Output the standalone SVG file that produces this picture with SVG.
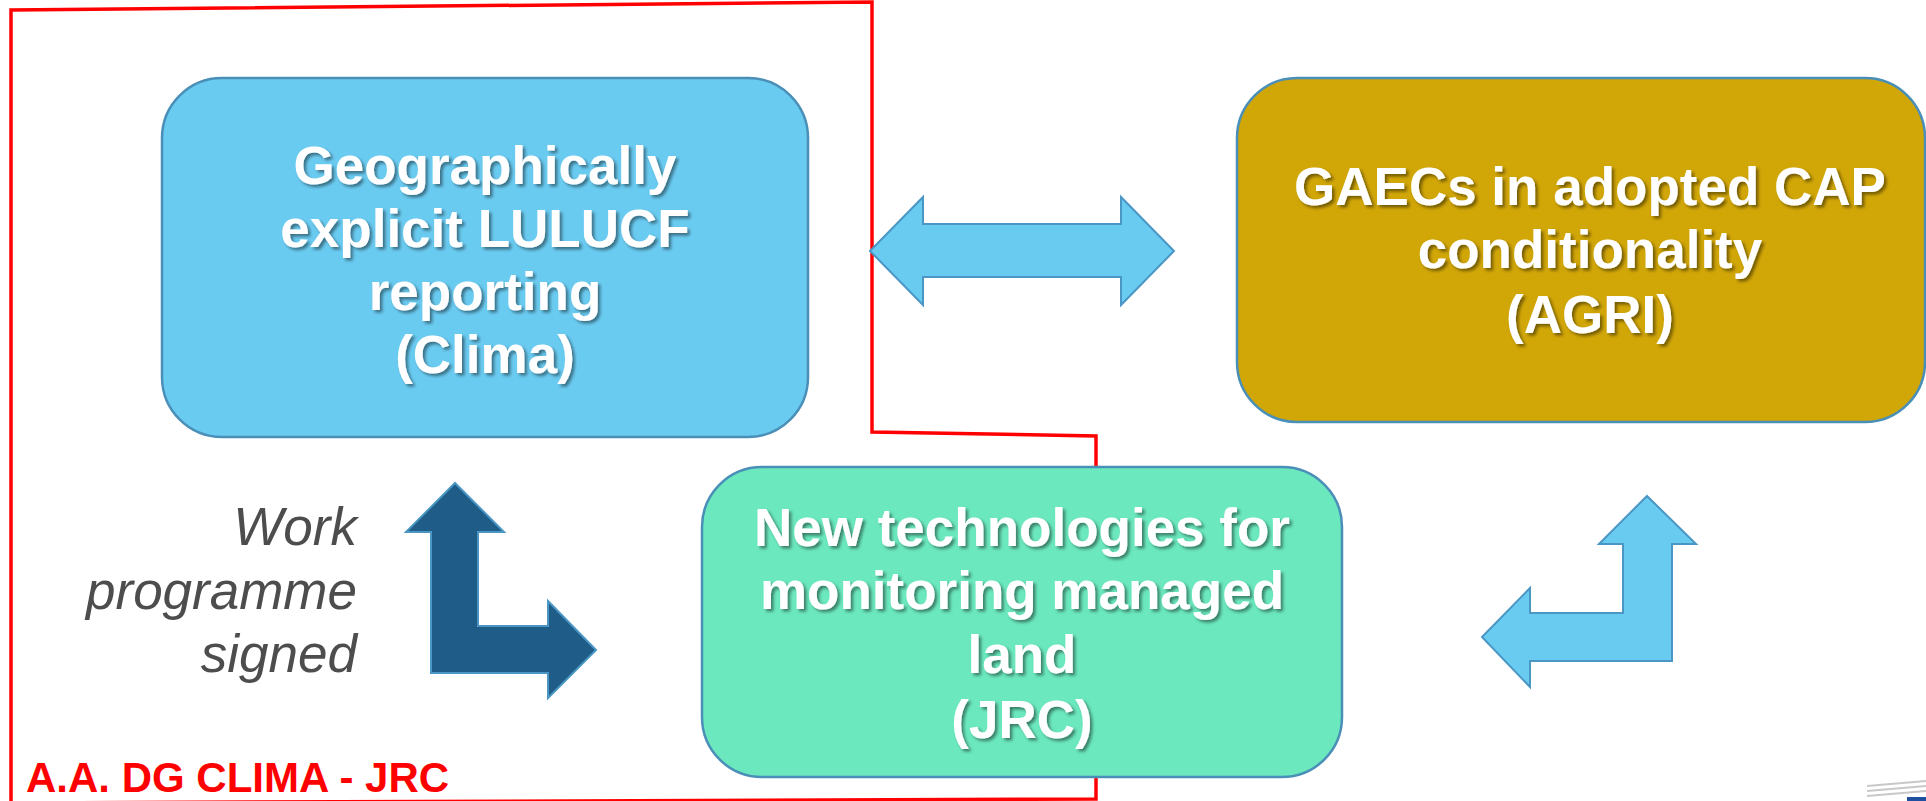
<svg xmlns="http://www.w3.org/2000/svg" width="1926" height="801" viewBox="0 0 1926 801">
<defs>
<filter id="ts" x="-10%" y="-30%" width="120%" height="160%">
<feDropShadow dx="2.5" dy="2.5" stdDeviation="1.5" flood-color="#000" flood-opacity="0.45"/>
</filter>
<style>
.box{stroke:#4A8FB8;stroke-width:2.5}
.t{font-family:"Liberation Sans",Arial,sans-serif;font-weight:bold;font-size:53px;fill:#fff;text-anchor:middle;filter:url(#ts)}
.note{font-family:"Liberation Sans",Arial,sans-serif;font-style:italic;font-size:53px;fill:#4D4D4D;text-anchor:end}
.lbl{font-family:"Liberation Sans",Arial,sans-serif;font-weight:bold;font-size:42px;fill:#FF0000}
.arr{stroke:#4A96C4;stroke-width:2}
</style>
</defs>
<rect width="1926" height="801" fill="#fff"/>
<g id="outline">
<polyline points="11,803 11,10 872,2 872,432 1096,436 1096,799 11,803" fill="none" stroke="#FF0000" stroke-width="3.5" stroke-linejoin="miter"/>
</g>
<g id="connectors">
<polygon class="arr" fill="#6ACBF1" points="870,251 923,197 923,224 1121,224 1121,197 1174,251 1121,305 1121,277 923,277 923,305"/>
<polygon class="arr" fill="#1F5C87" points="455,483 504,532 478,532 478,626 548,626 548,601 596,650 548,698 548,673 431,673 431,532 406,532"/>
<polygon class="arr" fill="#6ACBF1" points="1647,496 1696,544 1672,544 1672,661 1530,661 1530,687 1482,637 1530,588 1530,613 1623,613 1623,544 1599,544"/>
</g>
<g id="node-clima">
<rect class="box" x="162" y="78" width="646" height="359" rx="60" ry="60" fill="#6ACBF1"/>
<text class="t" x="485" y="184">Geographically</text>
<text class="t" x="485" y="247">explicit LULUCF</text>
<text class="t" x="485" y="310">reporting</text>
<text class="t" x="485" y="373">(Clima)</text>
</g>
<g id="node-agri">
<rect class="box" x="1237" y="78" width="688" height="344" rx="60" ry="60" fill="#D1A607"/>
<text class="t" x="1590" y="205">GAECs in adopted CAP</text>
<text class="t" x="1590" y="268">conditionality</text>
<text class="t" x="1590" y="333">(AGRI)</text>
</g>
<g id="node-jrc">
<rect class="box" x="702" y="467" width="640" height="310" rx="60" ry="60" fill="#6BE8BE"/>
<text class="t" x="1022" y="546">New technologies for</text>
<text class="t" x="1022" y="609">monitoring managed</text>
<text class="t" x="1022" y="673">land</text>
<text class="t" x="1022" y="738">(JRC)</text>
</g>
<g id="note">
<text class="note" x="357" y="545">Work</text>
<text class="note" x="357" y="609">programme</text>
<text class="note" x="357" y="672">signed</text>
</g>
<g id="label">
<text class="lbl" x="26" y="792">A.A. DG CLIMA - JRC</text>
</g>
<g id="logo-fragment">
<path d="M1867,786 L1926,781 M1867,791 L1926,786 M1867,796 L1926,791" stroke="#C8C8C8" stroke-width="2" fill="none"/>
<rect x="1907" y="797" width="19" height="4" fill="#1F4FA0"/>
</g>
</svg>
